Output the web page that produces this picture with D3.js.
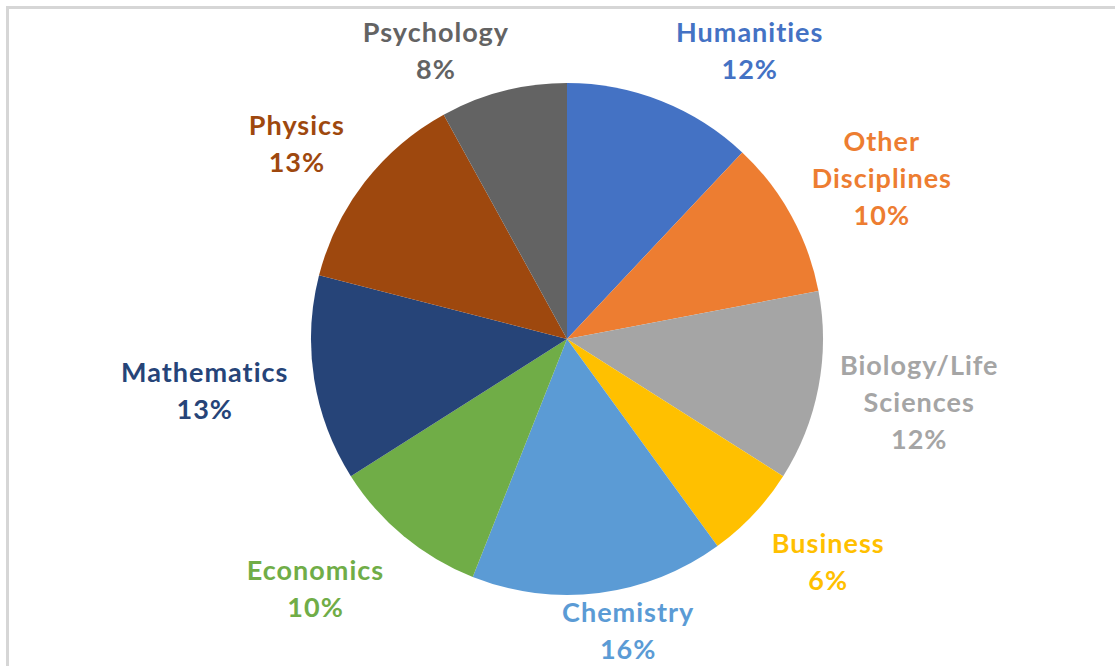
<!DOCTYPE html>
<html>
<head>
<meta charset="utf-8">
<script src="https://cdnjs.cloudflare.com/ajax/libs/d3/7.8.5/d3.min.js"></script>
<style>
  body { margin: 0; background: #fff; }
  text { font-family: Lato, "Open Sans", sans-serif; font-weight: bold; }
</style>
</head>
<body>
<div id="chart"></div>
<script>
// data, clockwise from 12 o'clock
var disciplinas = ["Humanities", "Other Disciplines", "Biology/Life Sciences", "Business",
                   "Chemistry", "Economics", "Mathematics", "Physics", "Psychology"];
var porcentajes = [12, 10, 12, 6, 16, 10, 13, 13, 8];
var colores = ["#4472C4", "#ED7D31", "#A5A5A5", "#FFC000", "#5B9BD5",
               "#70AD47", "#264478", "#9E480E", "#636363"];
// how the labels wrap
var lineas = [["Humanities"], ["Other", "Disciplines"], ["Biology/Life", "Sciences"], ["Business"],
              ["Chemistry"], ["Economics"], ["Mathematics"], ["Physics"], ["Psychology"]];

var width = 1115, height = 666,
    cx = 567, cy = 339, radio = 256,
    lh = 37;

// label placement: [angle shift from slice middle (deg), distance from centre]
var etiquetas = {
  "Humanities": [10.8, 341], "Other Disciplines": [1.9, 353], "Biology/Life Sciences": [-0.5, 358],
  "Business": [-2.6, 344], "Chemistry": [-4.6, 299], "Economics": [5.5, 355],
  "Mathematics": [0.8, 366], "Physics": [-2.0, 333], "Psychology": [-10.1, 316]
};

var datos = disciplinas.map(function (d, i) {
  return { nombre: d, valor: porcentajes[i], lineas: lineas[i] };
});

var svg = d3.select("#chart").append("svg")
    .attr("width", width).attr("height", height);

// light frame
svg.append("rect")
    .attr("x", 7.5).attr("y", 7.5)
    .attr("width", width + 20).attr("height", height + 20)
    .attr("fill", "none").attr("stroke", "#d6d6d6").attr("stroke-width", 3);

var color = d3.scaleOrdinal().domain(disciplinas).range(colores);

var pie = d3.pie().sort(null).value(function (d) { return d.valor; });
var arc = d3.arc().innerRadius(0).outerRadius(radio);

var g = svg.append("g").attr("transform", "translate(" + cx + "," + cy + ")");

var arcos = pie(datos);

g.selectAll("path")
  .data(arcos)
  .enter().append("path")
    .attr("d", arc)
    .attr("fill", function (d) { return color(d.data.nombre); });

var lab = g.selectAll("text.lab")
  .data(arcos)
  .enter().append("text")
    .attr("class", "lab")
    .attr("text-anchor", "middle")
    .style("font-size", "27px")
    .style("letter-spacing", "1px")
    .attr("fill", function (d) { return color(d.data.nombre); })
    .attr("transform", function (d) {
      var p = etiquetas[d.data.nombre];
      var a = (d.startAngle + d.endAngle) / 2 + p[0] * Math.PI / 180;
      return "translate(" + (Math.sin(a) * p[1]) + "," + (-Math.cos(a) * p[1]) + ")";
    });

lab.each(function (d) {
  var t = d3.select(this);
  var filas = d.data.lineas.concat([d.data.valor + "%"]);
  var y0 = -(filas.length - 1) * lh / 2 + 9;
  filas.forEach(function (f, k) {
    t.append("tspan").attr("x", 0).attr("y", y0 + k * lh).text(f);
  });
});
</script>
</body>
</html>
